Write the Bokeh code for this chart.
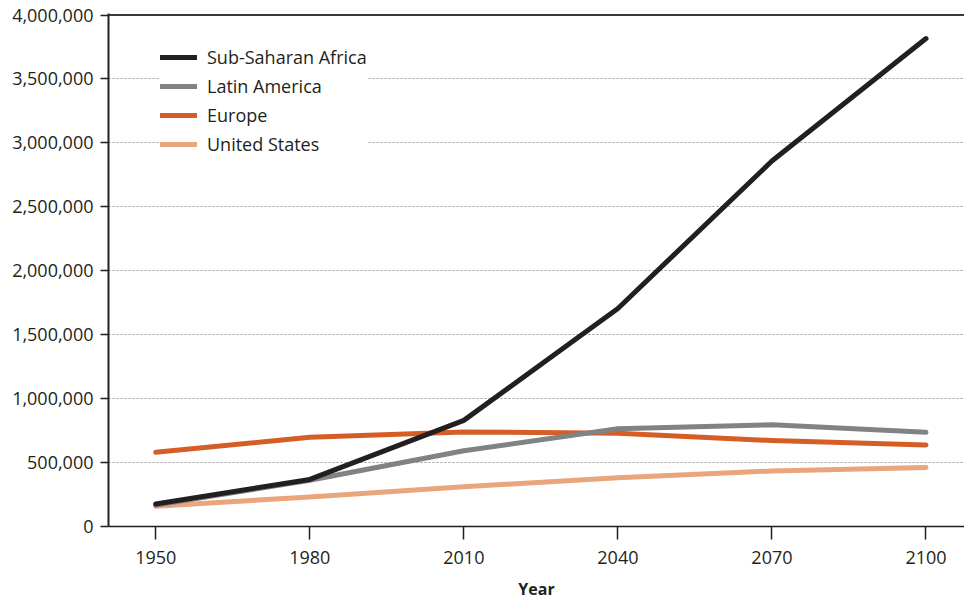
from bokeh.plotting import figure
from bokeh.models import Range1d, Span, Legend, LegendItem, FixedTicker, NumeralTickFormatter
from bokeh.embed import file_html
from bokeh.resources import INLINE

years = [1950, 1980, 2010, 2040, 2070, 2100]
sub_saharan_africa = [176000, 368000, 830000, 1705000, 2858000, 3816000]
latin_america = [168000, 362000, 592000, 765000, 795000, 737000]
europe = [581000, 698000, 740000, 729000, 672000, 638000]
united_states = [158000, 231000, 311000, 381000, 434000, 462000]

series = [
    ("Sub-Saharan Africa", sub_saharan_africa, "#231f20"),
    ("Latin America", latin_america, "#818285"),
    ("Europe", europe, "#d55e27"),
    ("United States", united_states, "#eaa57c"),
]

FONT = "Open Sans"
DARK = "#231f20"

p = figure(width=964, height=602, output_backend="svg", toolbar_location=None,
           x_range=Range1d(1940.8, 2107.5), y_range=Range1d(0, 4012000),
           min_border_left=108, min_border_top=13, min_border_right=0, min_border_bottom=73)
p.outline_line_color = None
p.background_fill_color = "white"
p.border_fill_color = "white"

# grid
p.xgrid.grid_line_color = None
p.ygrid.grid_line_color = "#9a9a9a"
p.ygrid.grid_line_dash = "2 2"
p.ygrid.grid_line_width = 1
p.ygrid.ticker = FixedTicker(ticks=[500000, 1000000, 1500000, 2000000, 2500000, 3000000, 3500000])

p.add_layout(Span(location=4000000, dimension="width", line_color="#3a3a3a", line_width=2))

# axes
p.xaxis.ticker = FixedTicker(ticks=years)
p.xaxis.major_tick_out = 13
p.xaxis.major_tick_in = 0
p.xaxis.minor_tick_line_color = None
p.xaxis.axis_line_color = DARK
p.xaxis.axis_line_width = 1.5
p.xaxis.major_tick_line_color = DARK
p.xaxis.major_tick_line_width = 1.5
p.xaxis.major_label_text_font = FONT
p.xaxis.major_label_text_font_size = "18px"
p.xaxis.major_label_text_color = DARK
p.xaxis.major_label_standoff = 11
p.xaxis.axis_label = "Year"
p.xaxis.axis_label_text_font = FONT
p.xaxis.axis_label_text_font_size = "16px"
p.xaxis.axis_label_text_font_style = "bold"
p.xaxis.axis_label_text_color = DARK
p.xaxis.axis_label_standoff = 11

p.yaxis.ticker = FixedTicker(ticks=[0, 500000, 1000000, 1500000, 2000000, 2500000, 3000000, 3500000, 4000000])
p.yaxis.formatter = NumeralTickFormatter(format="0,0")
p.yaxis.major_tick_out = 8
p.yaxis.major_tick_in = 0
p.yaxis.minor_tick_line_color = None
p.yaxis.axis_line_color = DARK
p.yaxis.axis_line_width = 2
p.yaxis.major_tick_line_color = DARK
p.yaxis.major_tick_line_width = 1.5
p.yaxis.major_label_text_font = FONT
p.yaxis.major_label_text_font_size = "18px"
p.yaxis.major_label_text_color = DARK
p.yaxis.major_label_standoff = 7

renderers = {}
for name, vals, color in reversed(series):
    renderers[name] = p.line(years, vals, line_color=color, line_width=5,
                             line_cap="round", line_join="round")

items = [LegendItem(label=name, renderers=[renderers[name]]) for name, _, _ in series]
legend = Legend(items=items, location=(52, 368), orientation="vertical",
                glyph_width=37, glyph_height=28, label_height=28, spacing=1,
                label_standoff=10, padding=5, margin=0,
                label_text_font=FONT, label_text_font_size="18px", label_text_color=DARK,
                border_line_color=None, background_fill_color="white", background_fill_alpha=1.0)
p.add_layout(legend, "center")

open("out.html", "w").write(file_html(p, INLINE))
